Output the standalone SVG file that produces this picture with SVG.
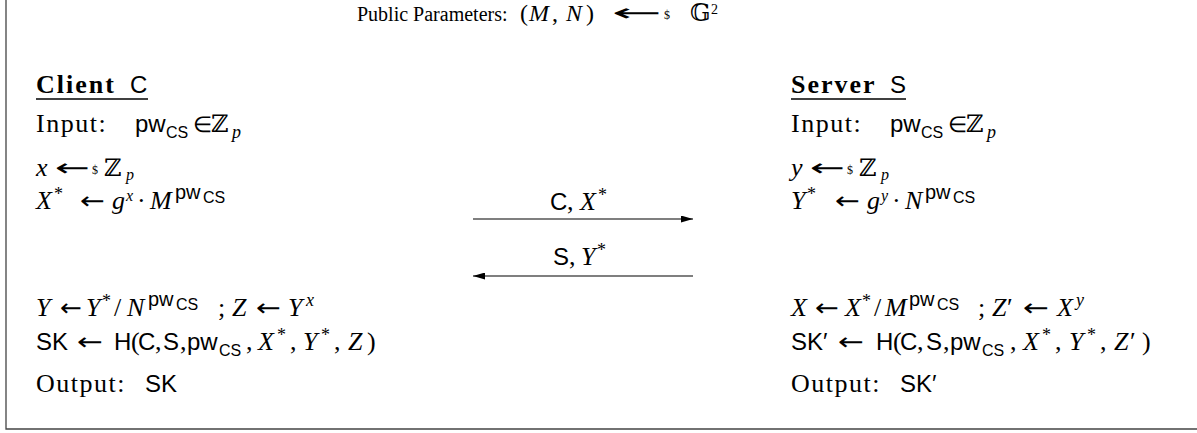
<svg xmlns="http://www.w3.org/2000/svg" width="1197" height="433" viewBox="0 0 1197 433">
<defs>
<style>
text{font-family:"Liberation Serif",serif;font-size:26px;fill:#000}
.ttl{font-size:20px}
.i{font-style:italic}
.b{font-weight:bold;letter-spacing:2px}
.w{letter-spacing:1.5px}
.s{font-family:"Liberation Sans","DejaVu Sans",sans-serif;font-size:24px}
.sp{font-size:18px}
.sq{font-size:16px}
.s20{font-family:"Liberation Sans","DejaVu Sans",sans-serif;font-size:20px}
.s16{font-family:"Liberation Sans","DejaVu Sans",sans-serif;font-size:16px}
.bb{font-family:"DejaVu Serif","DejaVu Sans",serif;font-size:24px}
.dol{font-size:12px}
.ar{font-family:"DejaVu Sans",sans-serif;font-size:24px}
.edge{stroke:#000;stroke-width:1.2;fill:none}
.frame{stroke:#444;stroke-width:1.3;fill:none}
.ul{stroke:#000;stroke-width:1.4}
</style>
<marker id="ah" viewBox="0 0 12 7" refX="12" refY="3.5" markerWidth="12" markerHeight="7" markerUnits="userSpaceOnUse" orient="auto">
<path d="M0,0 L12,3.5 L0,7 z" fill="#000"/>
</marker>
</defs>
<rect width="1197" height="433" fill="#fff"/>
<path class="frame" d="M6,0 V429 H1197"/>

<g id="title">
<text y="21"><tspan x="357" class="ttl">Public Parameters:</tspan><tspan x="520" font-size="24">(</tspan><tspan x="529" class="i" font-size="24">M</tspan><tspan x="552" font-size="24">,</tspan><tspan x="566" class="i" font-size="24">N</tspan><tspan x="586" font-size="24">)</tspan><tspan x="664" y="19" class="dol">$</tspan><tspan x="690" y="21" class="bb">𝔾</tspan><tspan x="711" y="14" font-size="14">2</tspan></text>
<text x="612" y="21" class="ar" font-size="20" textLength="50" lengthAdjust="spacingAndGlyphs">←</text>
</g>

<g id="client">
<text y="93"><tspan x="36" class="b">Client</tspan><tspan x="130" class="s">C</tspan></text>
<line class="ul" x1="36" y1="99" x2="148" y2="99"/>
<text y="132"><tspan x="36" class="w">Input:</tspan><tspan x="135" class="s">pw</tspan><tspan x="166" y="138" class="s16">CS</tspan><tspan x="193" y="132" font-size="22">∈</tspan><tspan x="211" class="bb">ℤ</tspan><tspan x="232" y="138" class="i sp">p</tspan></text>
<text y="176"><tspan x="36" class="i">x</tspan><tspan x="92" y="174" class="dol">$</tspan><tspan x="104" y="176" class="bb">ℤ</tspan><tspan x="126" y="180" class="i sq">p</tspan></text>
<text x="55" y="176" class="ar" textLength="35" lengthAdjust="spacingAndGlyphs">←</text>
<text y="209"><tspan x="36" class="i">X</tspan><tspan x="54" y="200" class="sp">*</tspan><tspan x="112" y="209" class="i">g</tspan><tspan x="126" y="201" class="i sq">x</tspan><tspan x="137" y="209">·</tspan><tspan x="150" class="i">M</tspan><tspan x="175" y="199" class="s20">pw</tspan><tspan x="203" y="203" class="s16">CS</tspan></text>
<text x="80" y="209" class="ar" textLength="25" lengthAdjust="spacingAndGlyphs">←</text>
<text y="316"><tspan x="36" class="i">Y</tspan><tspan x="86" class="i">Y</tspan><tspan x="102" y="307" class="sp">*</tspan><tspan x="114" y="316">/</tspan><tspan x="127" class="i">N</tspan><tspan x="148" y="306" class="s20">pw</tspan><tspan x="176" y="310" class="s16">CS</tspan><tspan x="218" y="316">;</tspan><tspan x="232" class="i">Z</tspan><tspan x="288" class="i">Y</tspan><tspan x="306" y="306" class="i sp">x</tspan></text>
<text x="60" y="316" class="ar" textLength="22" lengthAdjust="spacingAndGlyphs">←</text>
<text x="256" y="316" class="ar" textLength="25" lengthAdjust="spacingAndGlyphs">←</text>
<text y="350"><tspan x="36" class="s">SK</tspan><tspan x="114" class="s">H</tspan><tspan x="131">(</tspan><tspan x="138" class="s">C</tspan><tspan x="155">,</tspan><tspan x="163" class="s">S</tspan><tspan x="180">,</tspan><tspan x="187" class="s">pw</tspan><tspan x="219" y="356" class="s16">CS</tspan><tspan x="246" y="350">,</tspan><tspan x="258" class="i">X</tspan><tspan x="277" y="341" class="sp">*</tspan><tspan x="290" y="350">,</tspan><tspan x="303" class="i">Y</tspan><tspan x="321" y="341" class="sp">*</tspan><tspan x="334" y="350">,</tspan><tspan x="348" class="i">Z</tspan><tspan x="367">)</tspan></text>
<text x="77" y="350" class="ar" textLength="26" lengthAdjust="spacingAndGlyphs">←</text>
<text y="392"><tspan x="36" class="w">Output:</tspan><tspan x="145" class="s">SK</tspan></text>
</g>

<g id="server">
<text y="93"><tspan x="791" class="b">Server</tspan><tspan x="890" class="s">S</tspan></text>
<line class="ul" x1="791" y1="99" x2="906" y2="99"/>
<text y="132"><tspan x="791" class="w">Input:</tspan><tspan x="890" class="s">pw</tspan><tspan x="921" y="138" class="s16">CS</tspan><tspan x="948" y="132" font-size="22">∈</tspan><tspan x="966" class="bb">ℤ</tspan><tspan x="987" y="138" class="i sp">p</tspan></text>
<text y="176"><tspan x="791" class="i">y</tspan><tspan x="847" y="174" class="dol">$</tspan><tspan x="859" y="176" class="bb">ℤ</tspan><tspan x="881" y="180" class="i sq">p</tspan></text>
<text x="810" y="176" class="ar" textLength="35" lengthAdjust="spacingAndGlyphs">←</text>
<text y="209"><tspan x="791" class="i">Y</tspan><tspan x="807" y="200" class="sp">*</tspan><tspan x="867" y="209" class="i">g</tspan><tspan x="881" y="201" class="i sq">y</tspan><tspan x="892" y="209">·</tspan><tspan x="905" class="i">N</tspan><tspan x="925" y="199" class="s20">pw</tspan><tspan x="953" y="203" class="s16">CS</tspan></text>
<text x="835" y="209" class="ar" textLength="25" lengthAdjust="spacingAndGlyphs">←</text>
<text y="316"><tspan x="791" class="i">X</tspan><tspan x="845" class="i">X</tspan><tspan x="862" y="307" class="sp">*</tspan><tspan x="874" y="316">/</tspan><tspan x="885" class="i">M</tspan><tspan x="909" y="306" class="s20">pw</tspan><tspan x="937" y="310" class="s16">CS</tspan><tspan x="978" y="316">;</tspan><tspan x="992" class="i">Z</tspan><tspan x="1007">′</tspan><tspan x="1057" class="i">X</tspan><tspan x="1076" y="306" class="i sp">y</tspan></text>
<text x="815" y="316" class="ar" textLength="24" lengthAdjust="spacingAndGlyphs">←</text>
<text x="1023" y="316" class="ar" textLength="26" lengthAdjust="spacingAndGlyphs">←</text>
<text y="350"><tspan x="791" class="s">SK′</tspan><tspan x="876" class="s">H</tspan><tspan x="893">(</tspan><tspan x="900" class="s">C</tspan><tspan x="917">,</tspan><tspan x="926" class="s">S</tspan><tspan x="943">,</tspan><tspan x="950" class="s">pw</tspan><tspan x="982" y="356" class="s16">CS</tspan><tspan x="1010" y="350">,</tspan><tspan x="1023" class="i">X</tspan><tspan x="1042" y="341" class="sp">*</tspan><tspan x="1055" y="350">,</tspan><tspan x="1069" class="i">Y</tspan><tspan x="1087" y="341" class="sp">*</tspan><tspan x="1100" y="350">,</tspan><tspan x="1114" class="i">Z</tspan><tspan x="1130">′</tspan><tspan x="1142">)</tspan></text>
<text x="838" y="350" class="ar" textLength="26" lengthAdjust="spacingAndGlyphs">←</text>
<text y="392"><tspan x="791" class="w">Output:</tspan><tspan x="900" class="s">SK′</tspan></text>
</g>

<g id="connectors">
<line class="edge" x1="473" y1="219" x2="693" y2="219" marker-end="url(#ah)"/>
<text y="210"><tspan x="550" class="s">C</tspan><tspan x="567">,</tspan><tspan x="580" class="i">X</tspan><tspan x="598" y="201" class="sp">*</tspan></text>
<line class="edge" x1="693" y1="276" x2="473" y2="276" marker-end="url(#ah)"/>
<text y="265"><tspan x="553" class="s">S</tspan><tspan x="569">,</tspan><tspan x="581" class="i">Y</tspan><tspan x="597" y="256" class="sp">*</tspan></text>
</g>
</svg>
